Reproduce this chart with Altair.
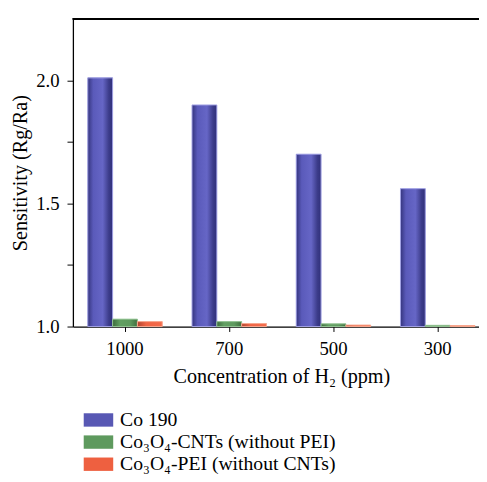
import altair as alt
import pandas as pd

conc = ["1000", "700", "500", "300"]
series = ["Co 190", "Co₃O₄-CNTs (without PEI)", "Co₃O₄-PEI (without CNTs)"]
co190 = [2.01, 1.90, 1.70, 1.56]
cnts = [1.03, 1.02, 1.011, 1.005]
pei = [1.02, 1.012, 1.006, 1.004]
y_ticks = [1.0, 1.25, 1.5, 1.75, 2.0]
y_top = 2.25

rows = []
for s, vals in zip(series, [co190, cnts, pei]):
    for c, v in zip(conc, vals):
        rows.append({"conc": c, "series": s, "value": v, "base": 1.0})
df = pd.DataFrame(rows)

mid_colors = ["#5858b4", "#5e9a5e", "#ee6040"]
strokes = ["#a4a4e6", "#94c494", "#f8a890"]
grads = [
    [("#35357e", 0), ("#5a5aba", 0.22), ("#6666c6", 0.6), ("#3c3c8a", 0.85), ("#30307a", 1)],
    [("#3d6b3d", 0), ("#62a062", 0.3), ("#5e9a5e", 0.7), ("#3f6f3f", 1)],
    [("#b04430", 0), ("#f06444", 0.35), ("#f46a4a", 1)],
]

FONT = "Liberation Serif"

x_scale = alt.Scale(domain=conc, range=[0, 424], paddingInner=0, paddingOuter=0)
xo_scale = alt.Scale(domain=series, paddingInner=0, paddingOuter=0.6)
y_scale = alt.Scale(domain=[1.0, y_top], zero=False, nice=False)

x_axis = alt.Axis(title="Concentration of H₂ (ppm)", labelAngle=0, tickSize=5,
                  labelPadding=8, titlePadding=9, labelFontSize=19, titleFontSize=20.5,
                  domainColor="black", tickColor="black", domainWidth=1.3)
y_axis = alt.Axis(title="Sensitivity (Rg/Ra)", values=y_ticks, tickSize=6,
                  labelExpr="(round(datum.value*100) % 50 == 0) ? format(datum.value, '.1f') : ''",
                  labelPadding=8, titlePadding=5, labelFontSize=19, titleFontSize=20.5,
                  domainColor="black", tickColor="black", domainWidth=1.3, grid=False)

base = alt.Chart(df).mark_bar(strokeWidth=0).encode(
    x=alt.X("conc:N", sort=conc, scale=x_scale, axis=x_axis),
    xOffset=alt.XOffset("series:N", scale=xo_scale),
    y=alt.Y("value:Q", scale=y_scale, axis=y_axis),
    y2="base:Q",
    color=alt.Color("series:N", scale=alt.Scale(domain=series, range=mid_colors),
                    legend=alt.Legend(title=None, orient="none", legendX=16, legendY=398,
                                      direction="vertical",
                                      symbolType="M-1.5,-0.68H1.5V0.68H-1.5Z",
                                      symbolSize=400, symbolStrokeWidth=0,
                                      labelFontSize=20, labelFont=FONT, labelOffset=12,
                                      labelLimit=0, labelColor="black",
                                      rowPadding=2.5, padding=0)),
)

layers = [base]
for i, s in enumerate(series):
    g = alt.Gradient(gradient="linear", x1=0, y1=0, x2=1, y2=0,
                     stops=[alt.GradientStop(color=c, offset=o) for c, o in grads[i]])
    lay = alt.Chart(df).transform_filter(alt.datum.series == s).mark_bar(
        color=g, stroke=strokes[i], strokeWidth=1
    ).encode(
        x=alt.X("conc:N", sort=conc, scale=x_scale),
        xOffset=alt.XOffset("series:N", scale=xo_scale),
        y=alt.Y("value:Q", scale=y_scale),
        y2="base:Q",
    )
    layers.append(lay)

top_line = alt.Chart(df).mark_rule(color="black", strokeWidth=1.3).encode(
    y=alt.datum(y_top, scale=y_scale)
)
layers.append(top_line)

chart = alt.layer(*layers).properties(
    width=413, height=313,
    autosize=alt.AutoSizeParams(type="none"),
    padding={"left": 66, "top": 7, "right": 0, "bottom": 146},
).configure_view(stroke=None).configure_axis(
    labelFont=FONT, titleFont=FONT, labelColor="black", titleColor="black",
    titleFontWeight="normal"
)

chart.save("out.html", embed_options={"renderer": "svg", "actions": False})
